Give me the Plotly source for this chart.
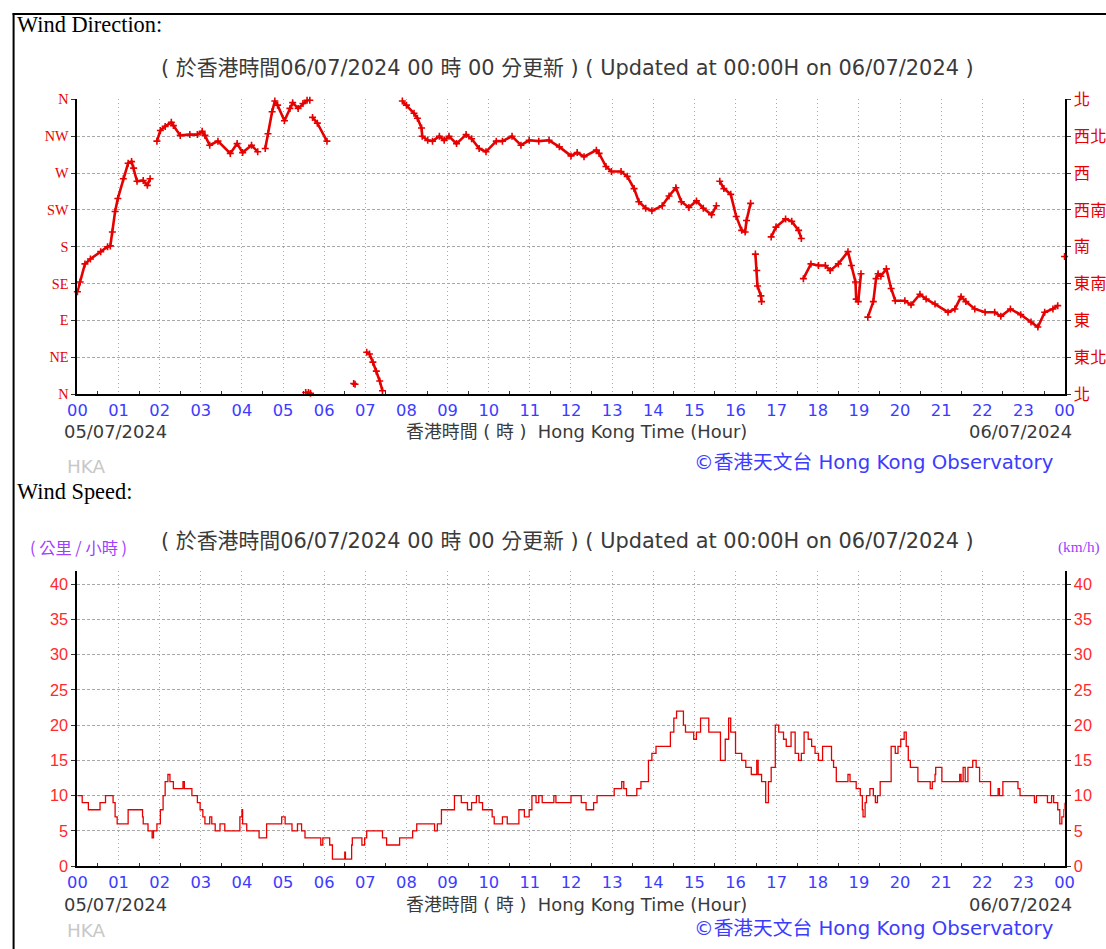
import plotly.graph_objects as go

W, H = 1106, 949

# ---------------- data ----------------
hour_labels = ["00", "01", "02", "03", "04", "05", "06", "07", "08", "09", "10", "11",
               "12", "13", "14", "15", "16", "17", "18", "19", "20", "21", "22", "23", "00"]
dir_labels_en = ["N", "NE", "E", "SE", "S", "SW", "W", "NW", "N"]
dir_labels_zh = ["北", "東北", "東", "東南", "南", "西南", "西", "西北", "北"]
dir_tick_deg = [0, 45, 90, 135, 180, 225, 270, 315, 360]
speed_ticks = [0, 5, 10, 15, 20, 25, 30, 35, 40]

# wind direction (minutes after 00:00 05/07/2024, degrees); None = gap
dir_minutes = [0, 4, 11, 19, 34, 44, 48, 51, 55, 59, 67, 74, 79, 82, 87, 96, 102, 106, None,
               116, 121, 128, 137, 140, 150, 164, 175, 182, 186, 193, 205, 223, 233, 241, 254, 263, None,
               274, 278, 284, 288, 292, 302, 310, 314, 322, 329, 335, 339, None,
               333, 337, 340, None,
               343, 350, 364, None,
               403, 405, None,
               422, 426, 431, 436, 441, 445, None,
               474, 480, 491, 496, 502, 503, 511, 518, 528, 535, 542, 553, 567, 575, 586, 596, 611, 620,
               634, 647, 659, 673, 688, 703, 720, 729, 739, 757, 761, 771, 779, 793, 802, 812, 819, 829,
               838, 853, 863, 873, 881, 892, 903, 913, 925, 932, None,
               937, 943, 953, 961, 969, 974, 976, 982, None,
               989, 991, 992, 997, 998, None,
               1012, 1019, 1033, 1042, 1052, 1056, None,
               1059, 1070, 1081, 1091, 1098, 1110, 1124, 1129, 1135, 1136, 1139, 1143, None,
               1153, 1161, 1165, 1168, 1172, 1180, 1187, 1193, 1207, 1216, 1229, 1238, 1251, 1270, 1280,
               1289, 1296, 1309, 1324, 1338, 1347, 1361, 1376, 1391, 1401, 1411, 1423, 1430, None,
               1440]
dir_degrees = [125, 137, 159, 165, 174, 180, 181, 198, 223, 239, 263, 282, 284, 276, 260, 261, 255, 263, None,
               309, 322, 327, 332, 328, 316, 317, 317, 321, 316, 304, 309, 294, 306, 295, 304, 296, None,
               300, 318, 345, 358, 353, 334, 349, 356, 349, 355, 359, 359, None,
               2, 2, 1, None,
               338, 331, 309, None,
               13, 12, None,
               51, 49, 39, 28, 16, 4, None,
               358, 353, 343, 337, 325, 315, 310, 309, 315, 310, 315, 306, 317, 312, 300, 296, 309, 309,
               315, 304, 310, 309, 310, 302, 291, 295, 290, 298, 294, 278, 272, 272, 266, 251, 235, 227,
               224, 230, 242, 252, 235, 228, 236, 227, 219, 230, None,
               260, 251, 244, 217, 200, 198, 212, 233, None,
               171, 151, 132, 120, 113, None,
               192, 204, 214, 211, 200, 190, None,
               141, 159, 157, 157, 151, 159, 174, 157, 137, 116, 113, 147, None,
               94, 113, 141, 147, 144, 153, 129, 114, 114, 109, 122, 116, 110, 100, 104,
               119, 113, 104, 100, 100, 95, 104, 97, 88, 82, 100, 104, 108, None,
               168]

# wind speed steps (minute at which value starts, km/h)
speed_minutes = [0, 7, 16, 33, 41, 52, 55, 58, 74, 95, 96, 103, 109, 111, 116, 121, 125, 128, 132, 135,
                 140, 154, 156, 167, 175, 179, 183, 186, 193, 196, 201, 208, 215, 237, 240, 241, 247, 265,
                 276, 298, 303, 313, 321, 327, 332, 355, 358, 368, 372, 390, 391, 400, 401, 415, 419, 422,
                 445, 451, 470, 489, 495, 521, 525, 531, 550, 560, 569, 575, 582, 586, 591, 605, 608, 620,
                 627, 644, 652, 659, 663, 669, 673, 678, 695, 698, 720, 735, 742, 753, 758, 783, 794, 797,
                 801, 816, 822, 833, 838, 844, 865, 870, 874, 884, 887, 899, 903, 909, 921, 938, 945, 950,
                 953, 960, 969, 975, 983, 991, 993, 998, 1004, 1008, 1012, 1018, 1023, 1030, 1034, 1041,
                 1047, 1052, 1056, 1060, 1066, 1071, 1076, 1081, 1087, 1100, 1103, 1107, 1124, 1127, 1136,
                 1142, 1145, 1146, 1149, 1151, 1156, 1161, 1164, 1167, 1171, 1187, 1193, 1197, 1201, 1206,
                 1209, 1212, 1215, 1226, 1244, 1247, 1251, 1252, 1261, 1287, 1289, 1292, 1295, 1299, 1306,
                 1311, 1316, 1332, 1343, 1345, 1350, 1372, 1375, 1396, 1399, 1415, 1421, 1424, 1430, 1433,
                 1436, 1439, 1440]
speed_kmh = [10, 9, 8, 9, 10, 9, 7, 6, 8, 7, 6, 5, 4, 5, 6, 8, 10, 12, 13, 12,
             11, 12, 11, 10, 9, 8, 7, 6, 7, 6, 5, 6, 5, 7, 8, 6, 5, 4,
             6, 7, 6, 5, 6, 5, 4, 3, 4, 3, 1, 2, 1, 3, 4, 3, 4, 5,
             4, 3, 4, 5, 6, 5, 6, 8, 10, 9, 8, 9, 10, 9, 8, 7, 6, 7,
             6, 8, 7, 8, 10, 9, 10, 9, 10, 9, 10, 9, 8, 9, 10, 11, 12, 11,
             10, 11, 12, 15, 16, 17, 19, 21, 22, 20, 19, 18, 19, 21, 19, 15, 18, 21,
             19, 16, 15, 14, 13, 15, 13, 12, 9, 12, 14, 20, 19, 18, 17, 19,
             16, 15, 16, 19, 18, 17, 16, 15, 17, 15, 14, 12, 13, 12, 11,
             10, 8, 7, 9, 10, 11, 10, 9, 10, 12, 17, 16, 17, 18, 19,
             17, 15, 14, 12, 11, 12, 13, 14, 12, 13, 12, 14, 12, 14, 15,
             14, 12, 10, 11, 10, 12, 11, 10, 9, 10, 9, 10, 9, 8, 6,
             7, 8, 9]

# ---------------- styling ----------------
RED = "#e60000"
TICK_RED = "#ff2a2a"
BLUE = "#3c3cff"
GRID = "#a8a8a8"
GRAY_TXT = "#3a3a3a"
PURPLE = "#a040ff"
CJK = "Noto Sans CJK TC"
SANS = "DejaVu Sans"
MIX = "DejaVu Sans, Noto Sans CJK TC"
SERIF = "Liberation Serif"

# the photographed page appears slightly reduced; target positions are given in
# picture pixels and converted back to page pixels here
SX, OX = 0.982, 9.4
SY, OY = 0.9725, 14.8
FS = 1.02  # font enlargement to offset the reduction


def page_x(ix):
    return (ix - OX) / SX


def page_y(iy):
    return min(max((iy - OY) / SY, 0), H)


def px(ix):
    return page_x(ix) / W


def py(iy):
    return 1 - page_y(iy) / H


def fs(v):
    return round(v * FS, 1)


x_dom = [px(77), px(1067)]
top_dom = [py(395), py(101)]
bot_dom = [py(866), py(572)]

fig = go.Figure()

fig.add_trace(go.Scatter(
    x=dir_minutes, y=dir_degrees, mode="lines+markers", xaxis="x", yaxis="y",
    line=dict(color=RED, width=2.6), connectgaps=False, cliponaxis=False,
    marker=dict(symbol="cross-thin", size=5, color=RED, line=dict(color=RED, width=1.6)),
    showlegend=False, hoverinfo="skip"))
fig.add_trace(go.Scatter(x=[None], y=[None], xaxis="x", yaxis="y2", showlegend=False,
                         hoverinfo="skip"))
fig.add_trace(go.Scatter(
    x=speed_minutes, y=speed_kmh, mode="lines", xaxis="x2", yaxis="y3",
    line=dict(color=RED, width=1.3, shape="hv"), showlegend=False, hoverinfo="skip"))
fig.add_trace(go.Scatter(x=[None], y=[None], xaxis="x2", yaxis="y4", showlegend=False,
                         hoverinfo="skip"))

hour_vals = list(range(0, 1441, 60))
half_vals = list(range(30, 1440, 60))


def xaxis_cfg(anchor):
    return dict(
        domain=x_dom, anchor=anchor, range=[0, 1440], tickmode="array",
        tickvals=hour_vals, ticktext=hour_labels, ticks="", showgrid=True,
        gridcolor=GRID, griddash="1px,3px", gridwidth=1, showline=True, linecolor="black",
        linewidth=2, zeroline=False, tickfont=dict(family=SANS, size=fs(16), color=BLUE),
        minor=dict(tickvals=half_vals, ticks="inside", ticklen=3, tickcolor="#333",
                   showgrid=False),
        fixedrange=True)


def yaxis_cfg(domain, anchor, rng, vals, text, font, side="left", overlay=None, grid=True):
    d = dict(domain=domain, anchor=anchor, range=rng, tickmode="array", tickvals=vals,
             ticktext=text, side=side, showgrid=grid, gridcolor=GRID, griddash="3px,2px",
             gridwidth=1, showline=True, linecolor="black", linewidth=2, zeroline=False,
             ticks="outside", ticklen=4, tickcolor="#333", tickfont=font, fixedrange=True)
    if overlay:
        d["overlaying"] = overlay
    return d


fig.update_layout(
    width=W, height=H, margin=dict(l=0, r=0, t=0, b=0),
    paper_bgcolor="white", plot_bgcolor="white", showlegend=False,
    xaxis=xaxis_cfg("y"),
    xaxis2=xaxis_cfg("y3"),
    yaxis=yaxis_cfg(top_dom, "x", [0, 360], dir_tick_deg, dir_labels_en,
                    dict(family=SERIF, size=fs(14), color=RED)),
    yaxis2=yaxis_cfg(top_dom, "x", [0, 360], dir_tick_deg, dir_labels_zh,
                     dict(family=CJK, size=fs(16), color=RED), side="right", overlay="y", grid=False),
    yaxis3=yaxis_cfg(bot_dom, "x2", [0, 41.8], speed_ticks, [str(v) for v in speed_ticks],
                     dict(family="Liberation Sans", size=fs(16), color=TICK_RED)),
    yaxis4=yaxis_cfg(bot_dom, "x2", [0, 41.8], speed_ticks, [str(v) for v in speed_ticks],
                     dict(family="Liberation Sans", size=fs(16), color=TICK_RED), side="right",
                     overlay="y3", grid=False),
)

anns = []


def ann(text, x, y, size, color, family, xanchor="left"):
    anns.append(dict(text=text, x=px(x), y=py(y), xref="paper", yref="paper",
                     xanchor=xanchor, yanchor="middle", showarrow=False,
                     font=dict(size=fs(size), color=color, family=family)))


subtitle = "( 於香港時間06/07/2024 00 時 00 分更新 ) ( Updated at 00:00H on 06/07/2024 )"
for off, title_y, title in [(0, 26, "Wind Direction:"), (472, 492, "Wind Speed:")]:
    ann(title, 14, title_y, 22, "black", SERIF)
    ann(subtitle, 568, 70 + off, 20.5, GRAY_TXT, MIX, "center")
    ann("05/07/2024", 62, 432 + off, 17.5, GRAY_TXT, SANS)
    ann("香港時間 ( 時 )  Hong Kong Time (Hour)", 578, 432 + off, 17.5, GRAY_TXT, MIX, "center")
    ann("06/07/2024", 1076, 432 + off, 17.5, GRAY_TXT, SANS, "right")

ann("HKA", 65, 467, 18, "#c8c8c8", SANS)
ann("©香港天文台 Hong Kong Observatory", 1058, 463, 19.3, BLUE, MIX, "right")
ann("HKA", 65, 930, 18, "#c8c8c8", SANS)
ann("©香港天文台 Hong Kong Observatory", 1058, 928, 19.3, BLUE, MIX, "right")

ann("( 公里 / 小時 )", 27, 548, 16, PURPLE, CJK)
ann("(km/h)", 1058, 548, 15, PURPLE, SERIF)

fig.update_layout(annotations=anns)

# page frame (left and top border)
fig.add_shape(type="line", xref="paper", yref="paper", x0=px(13), x1=px(13), y0=-0.02, y1=1,
              line=dict(color="black", width=2))
fig.add_shape(type="line", xref="paper", yref="paper", x0=px(12), x1=1.02, y0=1 - 1 / H, y1=1 - 1 / H,
              line=dict(color="black", width=2))

fig.write_html("out.html", config=dict(displayModeBar=False),
               post_script="document.body.style.margin='0';document.body.style.overflow='hidden';")
